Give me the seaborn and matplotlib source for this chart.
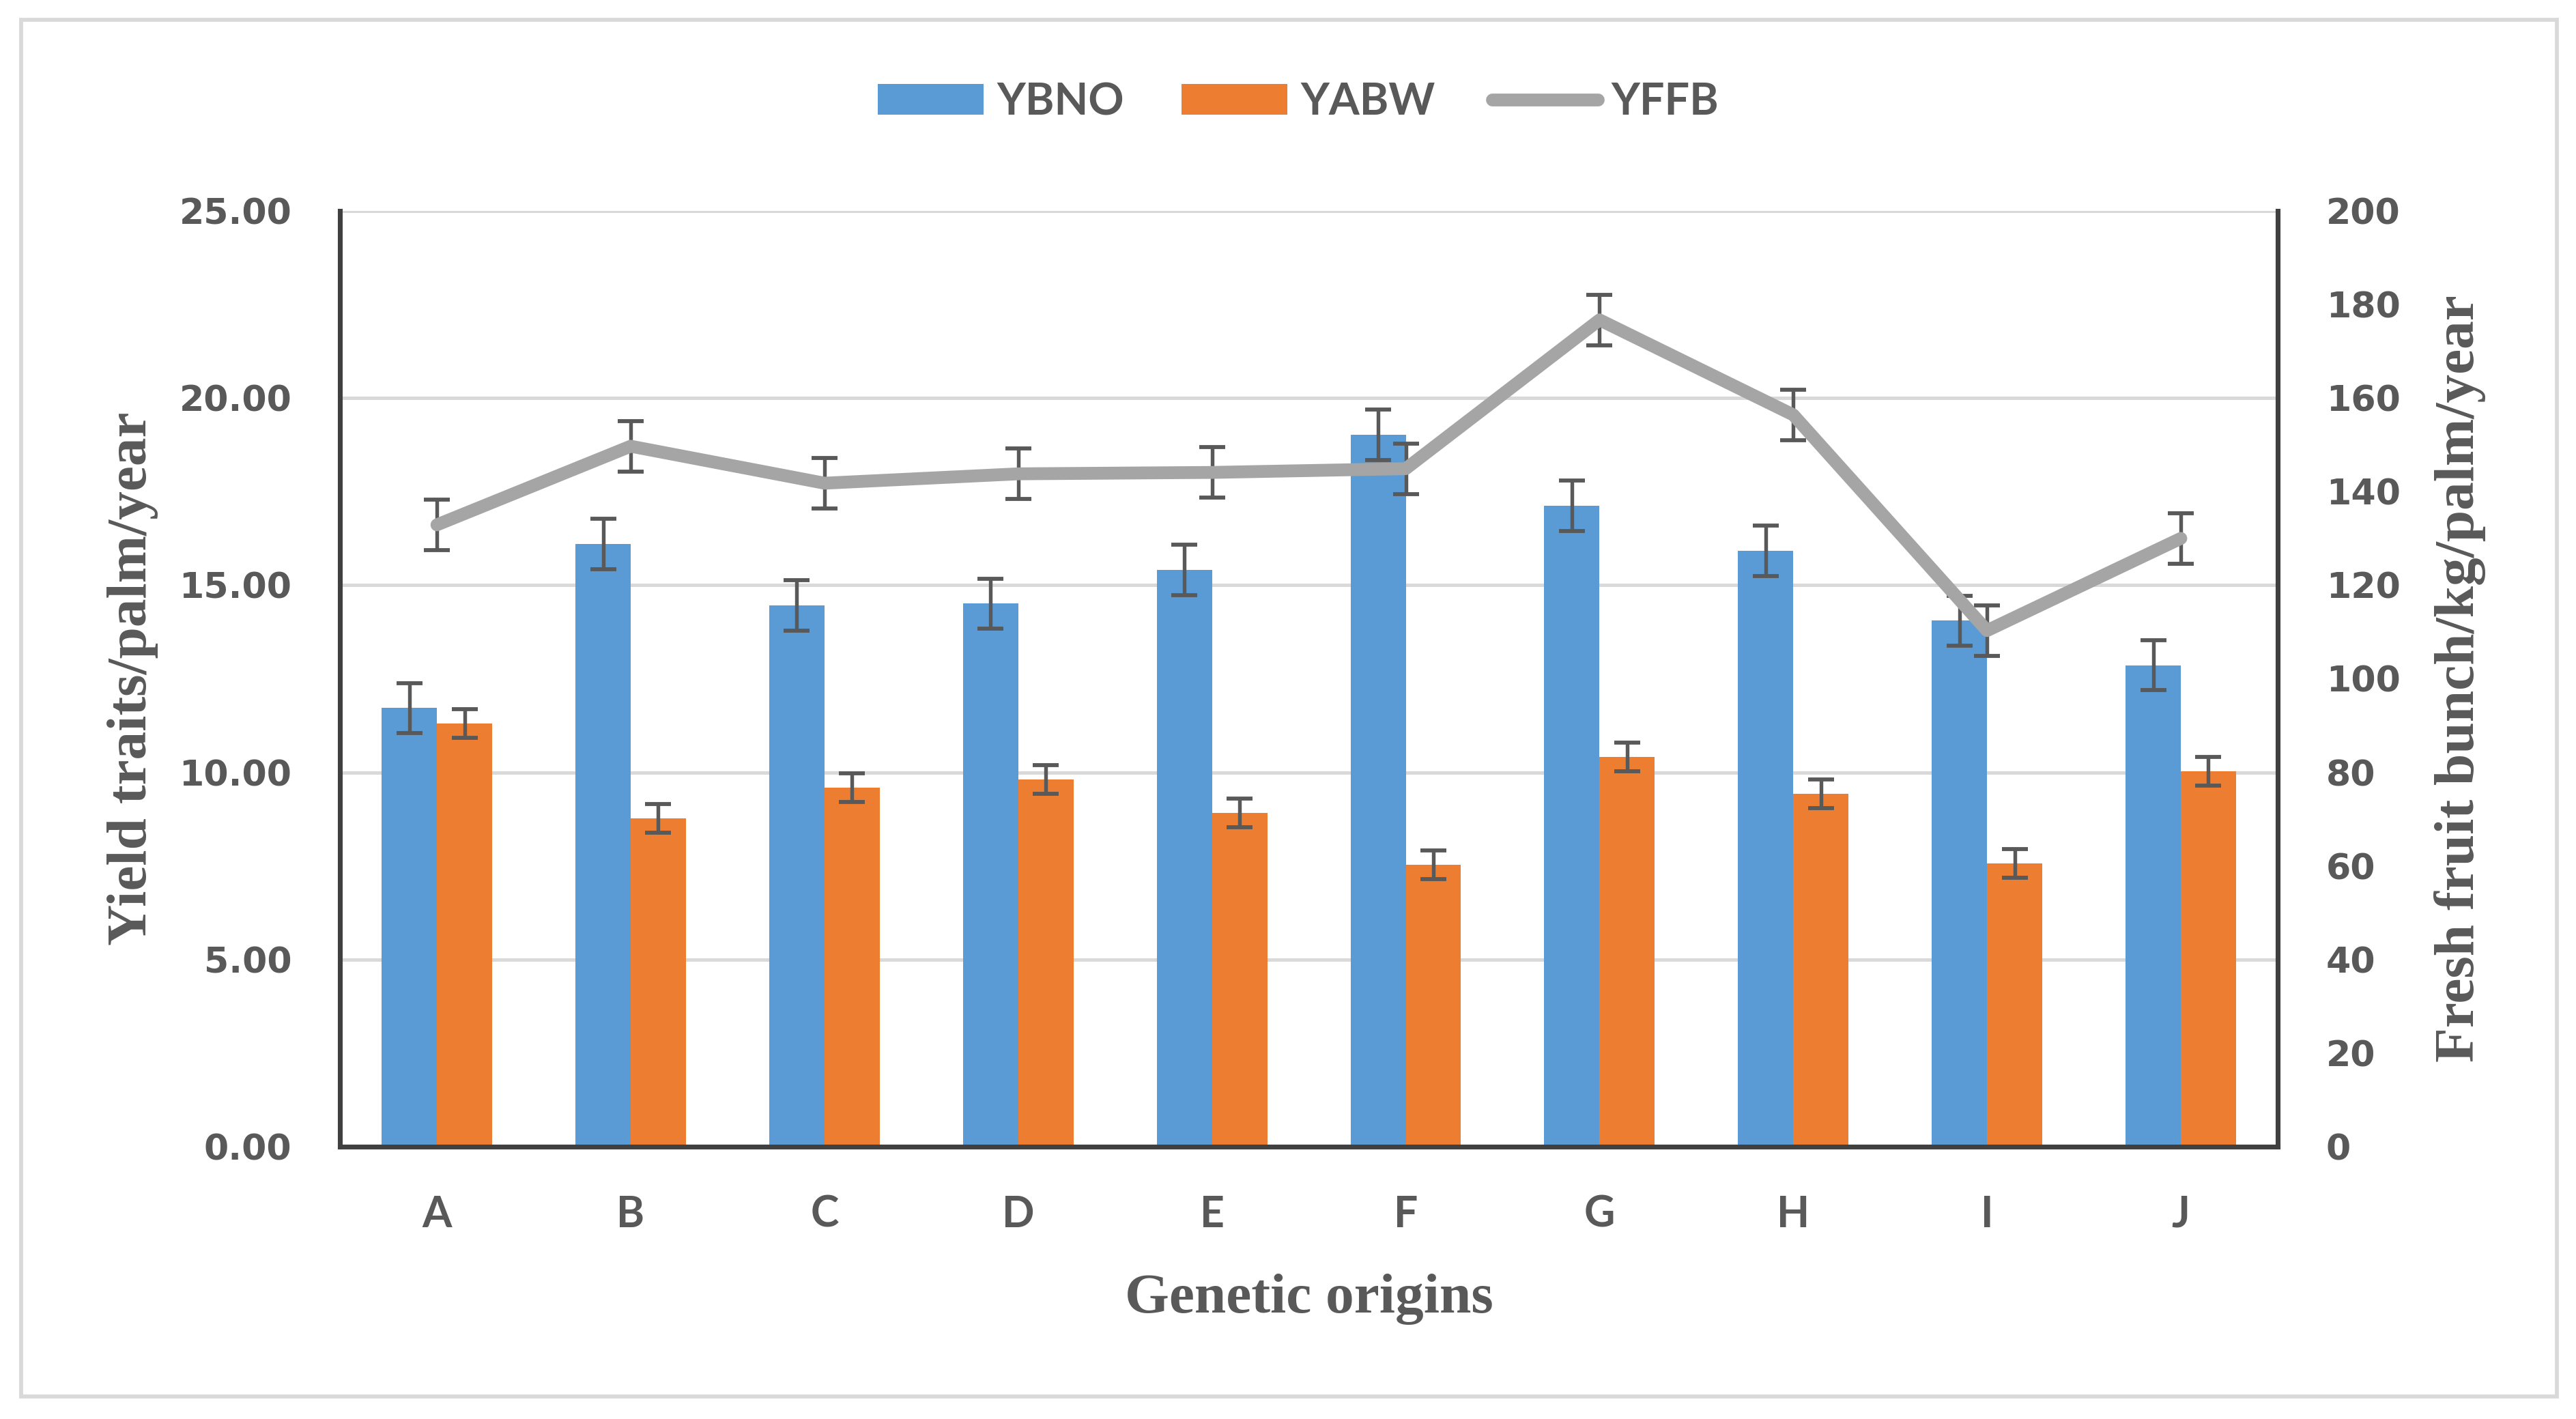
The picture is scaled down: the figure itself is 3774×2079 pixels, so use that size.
import numpy as np
import pandas as pd
import matplotlib
matplotlib.use("Agg")
import matplotlib.pyplot as plt
import seaborn as sns
from matplotlib.patches import Patch, Rectangle
from matplotlib.lines import Line2D

# ---------------------------------------------------------------
# DATA
# ---------------------------------------------------------------
origins = ["A", "B", "C", "D", "E", "F", "G", "H", "I", "J"]

ybno = [11.72, 16.10, 14.46, 14.51, 15.41, 19.02, 17.12, 15.92, 14.05, 12.86]
yabw = [11.30, 8.77, 9.59, 9.81, 8.92, 7.53, 10.41, 9.43, 7.57, 10.03]
yffb = [132.9, 149.7, 141.8, 143.8, 144.1, 144.9, 176.7, 156.4, 110.3, 130.0]

ybno_err = [0.67, 0.67, 0.67, 0.67, 0.67, 0.67, 0.67, 0.67, 0.67, 0.67]
yabw_err = [0.38, 0.38, 0.38, 0.38, 0.38, 0.38, 0.38, 0.38, 0.38, 0.38]
yffb_err = [5.4, 5.4, 5.4, 5.4, 5.4, 5.4, 5.4, 5.4, 5.4, 5.4]

left_ticks = [0, 5, 10, 15, 20, 25]
right_ticks = [0, 20, 40, 60, 80, 100, 120, 140, 160, 180, 200]

# ---------------------------------------------------------------
# STYLE
# ---------------------------------------------------------------
sns.set_style("white")

BLUE = "#5B9BD5"
ORANGE = "#ED7D31"
GRAY = "#A5A5A5"
TXT = "#595959"
SPINE = "#404040"
GRID = "#D9D9D9"

tick_font = dict(family=["DejaVu Sans"], weight="bold", size=12.5)
cat_font = dict(family=["Lato", "DejaVu Sans"], weight="bold", size=15)
label_font = dict(family=["Liberation Serif", "DejaVu Serif"], weight="bold", size=20)

df = pd.DataFrame({
    "origin": origins * 2,
    "value": ybno + yabw,
    "trait": ["YBNO"] * len(origins) + ["YABW"] * len(origins),
})
errs = {"YBNO": ybno_err, "YABW": yabw_err}

fig = plt.figure(figsize=(12.58, 6.93), dpi=300)
ax = fig.add_axes([0.1320, 0.1919, 0.7522, 0.6595])

# ---------------------------------------------------------------
# BARS
# ---------------------------------------------------------------
sns.barplot(data=df, x="origin", y="value", hue="trait",
            palette=[BLUE, ORANGE], width=0.57, saturation=1,
            errorbar=None, ax=ax, zorder=2, linewidth=0, edgecolor="none")
if ax.get_legend() is not None:
    ax.get_legend().remove()

for cont, trait in zip(ax.containers, ["YBNO", "YABW"]):
    xs = [p.get_x() + p.get_width() / 2 for p in cont]
    hs = [p.get_height() for p in cont]
    ax.errorbar(xs, hs, yerr=errs[trait], fmt="none", ecolor=TXT,
                elinewidth=1.3, capsize=4.5, capthick=1.4, zorder=3)

ax.set_xlim(-0.5, len(origins) - 0.5)
ax.set_ylim(0, 25)
ax.set_yticks(left_ticks)
ax.set_yticklabels([f"{t:.2f}" for t in left_ticks], color=TXT, **tick_font)
ax.set_xticks(range(len(origins)))
ax.set_xticklabels(origins, color=TXT, **cat_font)
ax.tick_params(axis="both", length=0)
ax.tick_params(axis="y", pad=17)
ax.tick_params(axis="x", pad=17)

ax.yaxis.grid(True, color=GRID, linewidth=1.2)
ax.set_axisbelow(True)

for side in ["left", "bottom"]:
    ax.spines[side].set_color(SPINE)
    ax.spines[side].set_linewidth(1.7)
ax.spines["top"].set_visible(False)
ax.spines["right"].set_visible(False)

ax.set_xlabel("Genetic origins", color=TXT, **label_font)
ax.set_ylabel("Yield traits/palm/year", color=TXT, **label_font)
ax.xaxis.label.set_va("center")
ax.yaxis.label.set_va("center")
ax.xaxis.set_label_coords(0.5, -0.163)
ax.yaxis.set_label_coords(-0.107, 0.5)

# ---------------------------------------------------------------
# LINE ON SECONDARY AXIS
# ---------------------------------------------------------------
ax2 = ax.twinx()
xpos = np.arange(len(origins))
ax2.errorbar(xpos, yffb, yerr=yffb_err, fmt="none", ecolor=TXT,
             elinewidth=1.3, capsize=4.5, capthick=1.4, zorder=2)
sns.lineplot(x=xpos, y=yffb, ax=ax2, color=GRAY, linewidth=4.5,
             sort=False, zorder=3, solid_capstyle="round",
             solid_joinstyle="round")
ax2.set_ylim(0, 200)
ax2.set_yticks(right_ticks)
ax2.set_yticklabels([str(t) for t in right_ticks], color=TXT, **tick_font)
ax2.tick_params(axis="y", length=0, pad=17)
ax2.grid(False)
for side in ["left", "top", "bottom"]:
    ax2.spines[side].set_visible(False)
ax2.spines["right"].set_color(SPINE)
ax2.spines["right"].set_linewidth(1.7)

ax2.set_ylabel("Fresh fruit bunch/kg/palm/year", color=TXT, **label_font)
ax2.yaxis.label.set_va("center")
ax2.yaxis.set_label_coords(1.094, 0.5)
ax2.set_xlim(-0.5, len(origins) - 0.5)

# ---------------------------------------------------------------
# LEGEND + BORDER
# ---------------------------------------------------------------
handles = [
    Patch(facecolor=BLUE, edgecolor="none"),
    Patch(facecolor=ORANGE, edgecolor="none"),
    Line2D([0], [0], color=GRAY, linewidth=4.5, solid_capstyle="round"),
]
fig.legend(handles, ["YBNO", "YABW", "YFFB"], loc="center",
           bbox_to_anchor=(0.504, 0.928), ncol=3, frameon=False,
           prop=dict(family=["Lato", "DejaVu Sans"], weight="bold", size=15.5),
           labelcolor=TXT, handlelength=2.4, handleheight=0.7,
           handletextpad=0.3, columnspacing=1.3)

fig.add_artist(Rectangle((0.0082, 0.0159), 0.9844, 0.9701,
                         transform=fig.transFigure, fill=False,
                         edgecolor=GRID, linewidth=1.4))

fig.savefig("out.png", dpi=300, facecolor="white")
